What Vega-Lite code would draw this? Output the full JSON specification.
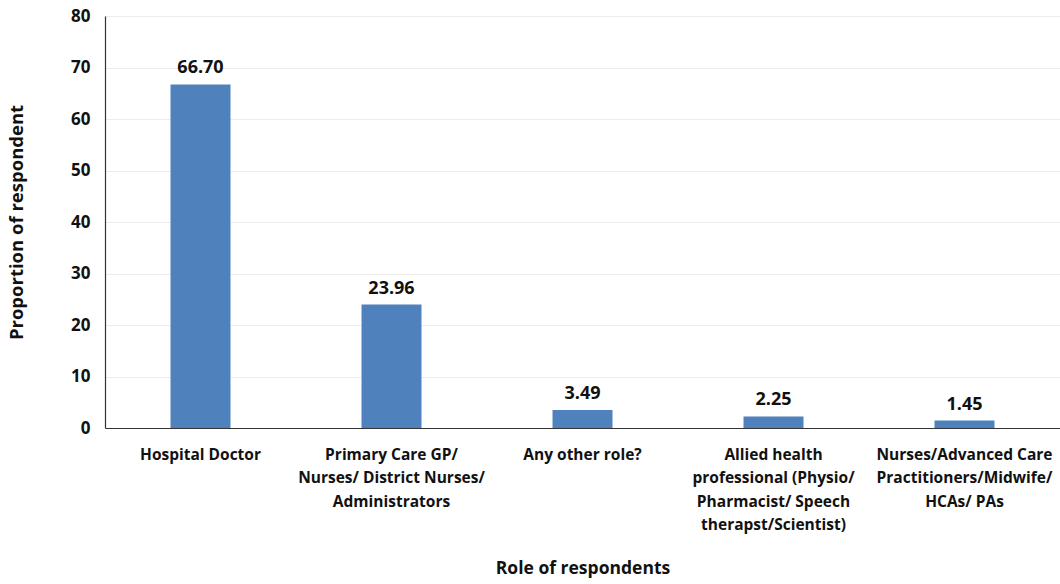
{
  "$schema": "https://vega.github.io/schema/vega-lite/v6.json",
  "width": 955,
  "height": 412,
  "autosize": "none",
  "padding": {"left": 105, "top": 16, "right": 0, "bottom": 156},
  "background": "white",
  "config": {
    "view": {"stroke": null},
    "font": "Open Sans"
  },
  "data": {
    "values": [
      {"role": "Hospital Doctor", "value": 66.70},
      {"role": "Primary Care GP/|Nurses/ District Nurses/|Administrators", "value": 23.96},
      {"role": "Any other role?", "value": 3.49},
      {"role": "Allied health|professional (Physio/|Pharmacist/ Speech|therapst/Scientist)", "value": 2.25},
      {"role": "Nurses/Advanced Care|Practitioners/Midwife/|HCAs/ PAs", "value": 1.45}
    ]
  },
  "encoding": {
    "x": {
      "field": "role",
      "type": "nominal",
      "sort": null,
      "scale": {"paddingInner": 0.686, "paddingOuter": 0.343},
      "axis": {
        "title": "Role of respondents",
        "titleFont": "Open Sans",
        "titleFontSize": 17.5,
        "titleFontWeight": "bold",
        "titleColor": "#111",
        "titlePadding": 26,
        "labelAngle": 0,
        "labelExpr": "split(datum.label, '|')",
        "labelFont": "Open Sans",
        "labelFontSize": 15.5,
        "labelFontWeight": "bold",
        "labelColor": "#111",
        "labelLineHeight": 23.5,
        "labelPadding": 19,
        "labelLimit": 300,
        "ticks": false,
        "domainColor": "#333",
        "domainWidth": 1.2
      }
    },
    "y": {
      "field": "value",
      "type": "quantitative",
      "scale": {"domain": [0, 80]},
      "axis": {
        "title": "Proportion of respondent",
        "titleFont": "Open Sans",
        "titleFontSize": 18.5,
        "titleFontWeight": "bold",
        "titleColor": "#111",
        "titlePadding": 44,
        "values": [0, 10, 20, 30, 40, 50, 60, 70, 80],
        "labelFont": "Open Sans",
        "labelFontSize": 17,
        "labelFontWeight": "bold",
        "labelColor": "#111",
        "labelPadding": 15,
        "ticks": false,
        "grid": true,
        "gridColor": "#ececec",
        "domainColor": "#333",
        "domainWidth": 1.2
      }
    }
  },
  "layer": [
    {"mark": {"type": "bar", "color": "#4F81BD"}},
    {
      "mark": {"type": "text", "dy": -7, "baseline": "bottom", "font": "Open Sans", "fontSize": 18, "fontWeight": "bold", "color": "#111"},
      "encoding": {"text": {"field": "value", "type": "quantitative", "format": ".2f"}}
    }
  ]
}
